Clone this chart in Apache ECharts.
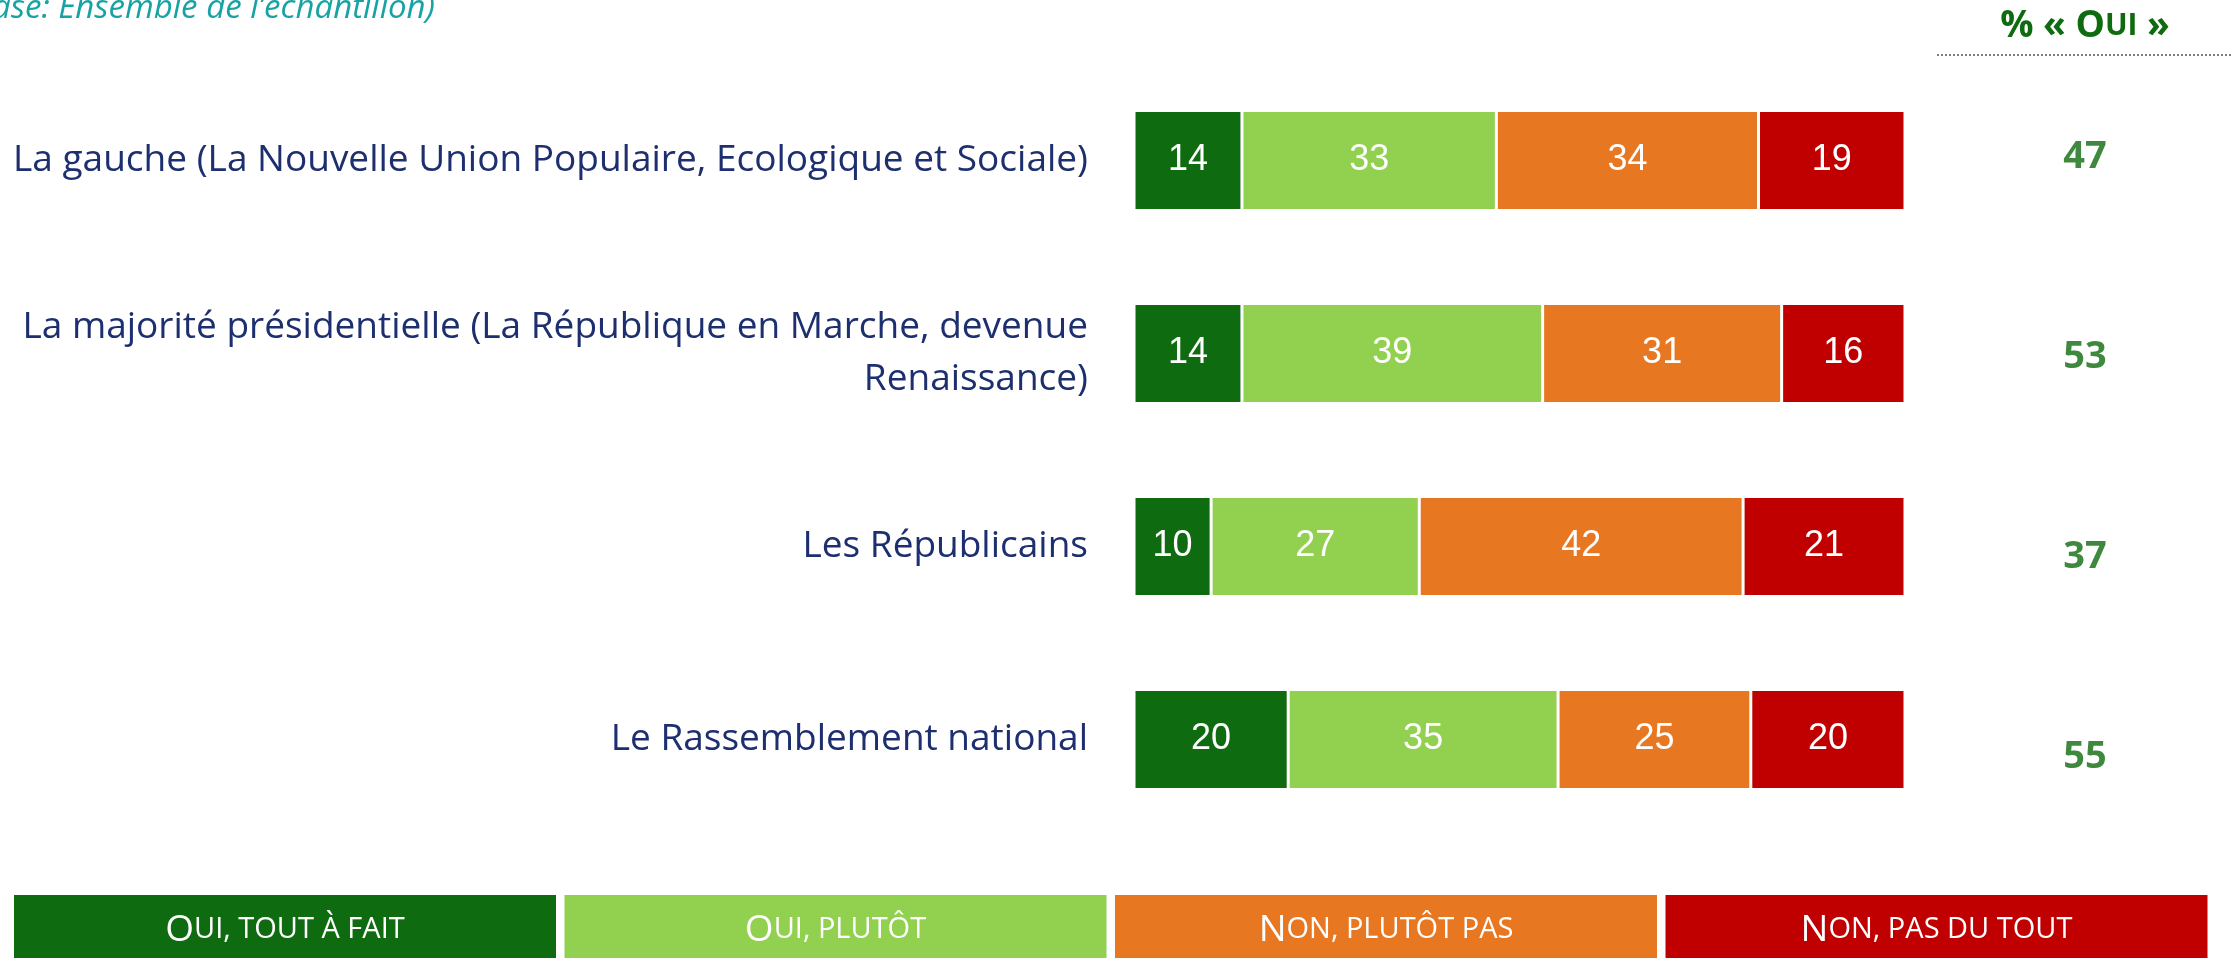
<!DOCTYPE html>
<html>
<head>
<meta charset="utf-8">
<script src="https://cdn.jsdelivr.net/npm/echarts@6/dist/echarts.min.js"></script>
<style>
  html, body { margin: 0; padding: 0; background: #fff; }
  #bar_chart { width: 2239px; height: 958px; }
</style>
</head>
<body>
<div id="bar_chart"></div>
<script>
// 分类
const categories = [
  'La gauche (La Nouvelle Union Populaire, Ecologique et Sociale)',
  'La majorité présidentielle (La République en Marche, devenue\nRenaissance)',
  'Les Républicains',
  'Le Rassemblement national'
];
// 各系列数值 (%)
const seriesNames = ['Oui, tout à fait', 'Oui, plutôt', 'Non, plutôt pas', 'Non, pas du tout'];
const toutAFait = [14, 14, 10, 20];
const plutot = [33, 39, 27, 35];
const plutotPas = [34, 31, 42, 25];
const pasDuTout = [19, 16, 21, 20];
// % « Oui »
const ouiTotal = [47, 53, 37, 55];

const colors = ['#0f6b10', '#92d050', '#e87722', '#c00000'];
const legendRich = [['O', 'UI, TOUT À FAIT'], ['O', 'UI, PLUTÔT'], ['N', 'ON, PLUTÔT PAS'], ['N', 'ON, PAS DU TOUT']];

const chart = echarts.init(document.getElementById('bar_chart'));

const values = [toutAFait, plutot, plutotPas, pasDuTout];
const series = values.map((data, i) => ({
  name: seriesNames[i],
  type: 'bar',
  stack: 'total',
  barWidth: 100,
  xAxisIndex: 0,
  yAxisIndex: 0,
  itemStyle: {
    color: colors[i],
    borderColor: '#fff',
    borderWidth: 1.5
  },
  label: {
    show: true,
    position: 'inside',
    color: '#fff',
    fontFamily: 'Liberation Sans, Arial',
    fontSize: 36
  },
  data: data
}));

// 右侧 % « Oui »
series.push({
  type: 'scatter',
  xAxisIndex: 1,
  yAxisIndex: 1,
  symbolSize: 0,
  label: {
    show: true,
    position: 'inside',
    color: '#0f6b0f',
    fontFamily: 'Open Sans',
    fontWeight: 'bold',
    fontSize: 38,
    formatter: p => p.value[2]
  },
  data: ouiTotal.map((v, i) => [0, i, v])
});

// 图例 (底部色块)
const legendGraphics = [];
legendRich.forEach((t, i) => {
  const x = 14 + i * 550.5;
  legendGraphics.push({
    type: 'rect',
    shape: { x: x, y: 895, width: 542, height: 63 },
    style: { fill: colors[i] }
  });
  legendGraphics.push({
    type: 'text',
    x: x + 271,
    y: 930,
    style: {
      text: '{b|' + t[0] + '}{s|' + t[1] + '}',
      align: 'center',
      verticalAlign: 'middle',
      fill: '#fff',
      rich: {
        b: { fontFamily: 'Open Sans', fontSize: 37, fill: '#fff' },
        s: { fontFamily: 'Open Sans', fontSize: 29, fill: '#fff' }
      }
    }
  });
});

let option = {
  animation: false,
  backgroundColor: '#fff',
  grid: [
    { left: 1134, width: 771, top: 64, height: 772 },
    { left: 2035, width: 100, top: 57, height: 800 }
  ],
  xAxis: [
    { type: 'value', min: 0, max: 100, gridIndex: 0, show: false },
    { type: 'value', min: -1, max: 1, gridIndex: 1, show: false }
  ],
  yAxis: [
    {
      type: 'category',
      gridIndex: 0,
      inverse: true,
      data: categories,
      axisLine: { show: false },
      axisTick: { show: false },
      splitLine: { show: false },
      axisLabel: {
        margin: 46,
        color: '#1d2f6f',
        fontFamily: 'Open Sans',
        fontSize: 37,
        lineHeight: 52,
        align: 'right'
      }
    },
    {
      type: 'category',
      gridIndex: 1,
      inverse: true,
      data: categories.map((c, i) => i),
      show: false
    }
  ],
  graphic: [
    {
      type: 'text',
      x: 435,
      y: 25,
      style: {
        text: '(Base: Ensemble de l\u2019échantillon)',
        align: 'right',
        verticalAlign: 'bottom',
        fill: '#17a3a3',
        fontFamily: 'Open Sans',
        fontStyle: 'italic',
        fontSize: 33
      }
    },
    {
      type: 'text',
      x: 2085,
      y: 26,
      style: {
        text: '{b|% « O}{s|UI}{b| »}',
        align: 'center',
        verticalAlign: 'middle',
        rich: {
          b: { fontFamily: 'Open Sans', fontWeight: 'bold', fontSize: 37, fill: '#0f6b0f' },
          s: { fontFamily: 'Open Sans', fontWeight: 'bold', fontSize: 30, fill: '#0f6b0f' }
        }
      }
    },
    {
      type: 'line',
      shape: { x1: 1937, y1: 55, x2: 2233, y2: 55 },
      style: { stroke: '#808080', lineWidth: 2, lineDash: [2, 2] }
    }
  ].concat(legendGraphics),
  series: series
};

chart.setOption(option);
</script>
</body>
</html>
